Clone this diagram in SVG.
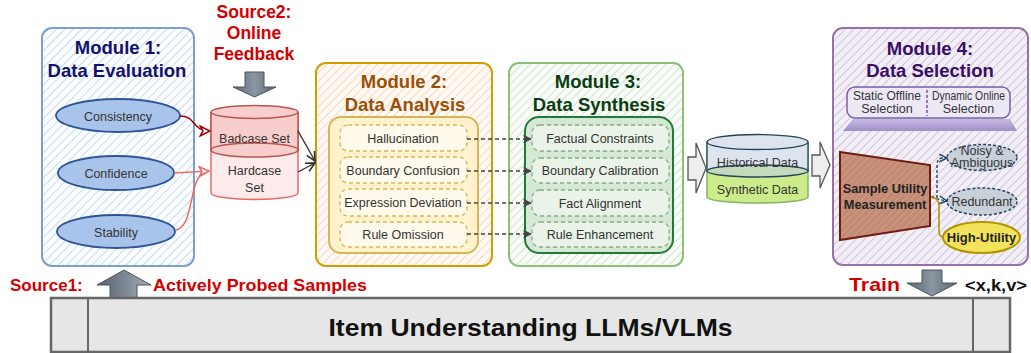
<svg xmlns="http://www.w3.org/2000/svg" width="1031" height="353" viewBox="0 0 1031 353">
<defs>
<style>
text{font-family:"Liberation Sans",Arial,sans-serif;}
.title{font-size:18.5px;font-weight:bold;text-anchor:middle;}
.item{font-size:12.5px;fill:#333;text-anchor:middle;}
.red{fill:#d40000;font-weight:bold;}
.dash{fill:none;stroke:#444;stroke-width:1.3;stroke-dasharray:4 3;}
</style>
<pattern id="hBlue" width="6" height="6" patternUnits="userSpaceOnUse" patternTransform="rotate(45)"><rect width="6" height="6" fill="#fbfdff"/><line x1="0" y1="0" x2="0" y2="6" stroke="#c9dbf2" stroke-width="2"/></pattern>
<pattern id="hOrange" width="6" height="6" patternUnits="userSpaceOnUse" patternTransform="rotate(45)"><rect width="6" height="6" fill="#fffaf5"/><line x1="0" y1="0" x2="0" y2="6" stroke="#fbd9bd" stroke-width="2"/></pattern>
<pattern id="hGreen" width="6" height="6" patternUnits="userSpaceOnUse" patternTransform="rotate(45)"><rect width="6" height="6" fill="#f9fcf8"/><line x1="0" y1="0" x2="0" y2="6" stroke="#cfe5cc" stroke-width="2"/></pattern>
<pattern id="hPurple" width="6" height="6" patternUnits="userSpaceOnUse" patternTransform="rotate(45)"><rect width="6" height="6" fill="#f3eff6"/><line x1="0" y1="0" x2="0" y2="6" stroke="#d2c3dd" stroke-width="2"/></pattern>
<pattern id="hBrown" width="5" height="5" patternUnits="userSpaceOnUse" patternTransform="rotate(45)"><rect width="5" height="5" fill="#c38a74"/><line x1="0" y1="0" x2="0" y2="5" stroke="#d2a28d" stroke-width="1.5"/></pattern>
<linearGradient id="gGray" x1="0" y1="0" x2="1" y2="0"><stop offset="0" stop-color="#5c6875"/><stop offset="0.5" stop-color="#8b96a2"/><stop offset="1" stop-color="#5c6875"/></linearGradient>
<linearGradient id="gGray2" x1="0" y1="0" x2="1" y2="0"><stop offset="0" stop-color="#56616d"/><stop offset="1" stop-color="#a3adb8"/></linearGradient>
<linearGradient id="gPurp" x1="0" y1="0" x2="0" y2="1"><stop offset="0" stop-color="#c6bae0"/><stop offset="1" stop-color="#a08fca"/></linearGradient>
<marker id="aDark" viewBox="0 0 10 10" refX="9" refY="5" markerWidth="8" markerHeight="8" orient="auto"><path d="M1,1 L9,5 L1,9" fill="none" stroke="#333" stroke-width="1.5"/></marker>
<marker id="aDR" viewBox="0 0 10 10" refX="9" refY="5" markerWidth="8" markerHeight="8" orient="auto"><path d="M1,1 L9,5 L1,9 L3,5 z" fill="#fff" stroke="#a00000" stroke-width="1.3"/></marker>
<marker id="aPink" viewBox="0 0 10 10" refX="9" refY="5" markerWidth="8" markerHeight="8" orient="auto"><path d="M1,1 L9,5 L1,9 L3,5 z" fill="#fff" stroke="#ea6b66" stroke-width="1.3"/></marker>
<marker id="aDash" viewBox="0 0 10 10" refX="9" refY="5" markerWidth="7" markerHeight="7" orient="auto"><path d="M1,1 L9,5 L1,9 L3,5 z" fill="#444" stroke="#444" stroke-width="1"/></marker>
<marker id="aM4" viewBox="0 0 10 10" refX="9" refY="5" markerWidth="7" markerHeight="7" orient="auto"><path d="M1,1 L9,5 L1,9" fill="none" stroke="#23445d" stroke-width="1.5"/></marker>
</defs>

<!-- Module 1 -->
<g id="module1">
<rect x="42" y="28" width="152" height="238" rx="10" fill="url(#hBlue)" stroke="#7a9fd0" stroke-width="2"/>
<text class="title" x="118" y="54" fill="#12126e">Module 1:</text>
<text class="title" x="117" y="77" fill="#12126e">Data Evaluation</text>
</g>
<g id="consistency"><ellipse cx="118" cy="115.5" rx="62" ry="16.5" fill="#a9c4eb" stroke="#2f5597" stroke-width="1.8"/><text class="item" x="118" y="120.5" font-size="14" fill="#222">Consistency</text></g>
<g id="confidence"><ellipse cx="116" cy="173" rx="58" ry="17" fill="#a9c4eb" stroke="#2f5597" stroke-width="1.8"/><text class="item" x="116" y="178" font-size="14" fill="#222">Confidence</text></g>
<g id="stability"><ellipse cx="116" cy="231.5" rx="59" ry="16.5" fill="#a9c4eb" stroke="#2f5597" stroke-width="1.8"/><text class="item" x="116" y="236.5" font-size="14" fill="#222">Stability</text></g>

<!-- Source 2 -->
<g id="source2">
<text class="red" x="254" y="18" font-size="17.5" text-anchor="middle">Source2:</text>
<text class="red" x="254" y="39" font-size="17.5" text-anchor="middle">Online</text>
<text class="red" x="254" y="60" font-size="17.5" text-anchor="middle">Feedback</text>
<polygon points="245,72 264,72 264,87 276,87 254.5,97 233,87 245,87" fill="url(#gGray)" stroke="#4a545e" stroke-width="1"/>
</g>

<!-- Case cylinder -->
<g id="caseSets">
<path d="M211,112 L211,193 A43.5,6.5 0 0 0 298,193 L298,112" fill="#fdeaea" stroke="#ea6b66" stroke-width="1.5"/>
<path d="M211,112 L211,150 L298,150 L298,112" fill="#f8cecc" stroke="#b85450" stroke-width="1.5"/>
<ellipse cx="254.5" cy="150" rx="43.5" ry="7" fill="#f8cecc" stroke="#b85450" stroke-width="1.5"/>
<ellipse cx="254.5" cy="112" rx="43.5" ry="6.5" fill="#f8cecc" stroke="#b85450" stroke-width="1.5"/>
<text class="item" x="254.5" y="143" font-size="14" fill="#222">Badcase Set</text>
<text class="item" x="254.5" y="175" font-size="14" fill="#222">Hardcase</text>
<text class="item" x="254.5" y="192" font-size="14" fill="#222">Set</text>
</g>

<!-- Module 2 -->
<g id="module2">
<rect x="316" y="63" width="176" height="203" rx="10" fill="url(#hOrange)" stroke="#d79b00" stroke-width="2"/>
<text class="title" x="404" y="88" fill="#9c4f08">Module 2:</text>
<text class="title" x="405" y="111" fill="#9c4f08">Data Analysis</text>
<rect x="329" y="117" width="149" height="136" rx="12" fill="#fff2cc" stroke="#d6b656" stroke-width="2"/>
</g>
<g id="hallucination"><rect x="340" y="125" width="127" height="26" rx="8" fill="#fffaeb" stroke="#d6b656" stroke-width="1.3" stroke-dasharray="4 3"/><text class="item" x="403" y="143">Hallucination</text></g>
<g id="boundaryConfusion"><rect x="340" y="157" width="127" height="26" rx="8" fill="#fffaeb" stroke="#d6b656" stroke-width="1.3" stroke-dasharray="4 3"/><text class="item" x="403" y="175">Boundary Confusion</text></g>
<g id="expressionDeviation"><rect x="340" y="189" width="127" height="27" rx="8" fill="#fffaeb" stroke="#d6b656" stroke-width="1.3" stroke-dasharray="4 3"/><text class="item" x="403" y="207">Expression Deviation</text></g>
<g id="ruleOmission"><rect x="340" y="222" width="127" height="25" rx="8" fill="#fffaeb" stroke="#d6b656" stroke-width="1.3" stroke-dasharray="4 3"/><text class="item" x="403" y="239">Rule Omission</text></g>

<!-- Module 3 -->
<g id="module3">
<rect x="509" y="63" width="174" height="203" rx="10" fill="url(#hGreen)" stroke="#8cbf78" stroke-width="2"/>
<text class="title" x="598" y="88" fill="#0b3d14">Module 3:</text>
<text class="title" x="599" y="111" fill="#0b3d14">Data Synthesis</text>
<rect x="525" y="117" width="148" height="136" rx="14" fill="#d5e8d4" stroke="#1f7a3a" stroke-width="2"/>
</g>
<g id="factualConstraints"><rect x="532" y="125" width="137" height="26" rx="8" fill="#e9f3e7" stroke="#8aa888" stroke-width="1.3" stroke-dasharray="4 3"/><text class="item" x="600" y="143">Factual Constraints</text></g>
<g id="boundaryCalibration"><rect x="532" y="158" width="137" height="25" rx="8" fill="#e9f3e7" stroke="#8aa888" stroke-width="1.3" stroke-dasharray="4 3"/><text class="item" x="600" y="175">Boundary Calibration</text></g>
<g id="factAlignment"><rect x="532" y="190" width="137" height="26" rx="8" fill="#e9f3e7" stroke="#8aa888" stroke-width="1.3" stroke-dasharray="4 3"/><text class="item" x="600" y="208">Fact Alignment</text></g>
<g id="ruleEnhancement"><rect x="532" y="222" width="137" height="25" rx="8" fill="#e9f3e7" stroke="#8aa888" stroke-width="1.3" stroke-dasharray="4 3"/><text class="item" x="600" y="239">Rule Enhancement</text></g>

<!-- Data cylinder -->
<g id="dataPool">
<path d="M707,142 L707,197 A50.5,6 0 0 0 808,197 L808,142" fill="#cdeb8b" stroke="#82b366" stroke-width="1.5"/>
<path d="M707,142 L707,171 L808,171 L808,142" fill="#dde4ee" stroke="#23445d" stroke-width="1.3"/>
<ellipse cx="757.5" cy="171" rx="50.5" ry="6" fill="#c5d9bd" stroke="#23445d" stroke-width="1.3"/>
<ellipse cx="757.5" cy="142" rx="50.5" ry="7.5" fill="#dde4ee" stroke="#23445d" stroke-width="1.3"/>
<text class="item" x="757.5" y="167" font-size="14.5" fill="#3a4654">Historical Data</text>
<text class="item" x="757.5" y="194" font-size="14" fill="#222">Synthetic Data</text>
</g>

<!-- Module 4 -->
<g id="module4">
<rect x="833" y="28" width="195" height="237" rx="10" fill="url(#hPurple)" stroke="#9673a6" stroke-width="2"/>
<text class="title" x="930" y="55" fill="#3a0d66">Module 4:</text>
<text class="title" x="930" y="77" fill="#3a0d66">Data Selection</text>
</g>
<g id="selectionModes">
<polygon points="853,119 1010,119 1017,131 843,131" fill="url(#gPurp)"/>
<rect x="847" y="87" width="163" height="31" rx="8" fill="#ede8f5" stroke="#7b5ea7" stroke-width="1.5"/>
<line x1="927" y1="90" x2="927" y2="116" stroke="#5b2c8f" stroke-width="1.2" stroke-dasharray="3 2"/>
<text class="item" x="887" y="100" font-size="11" textLength="68" lengthAdjust="spacingAndGlyphs">Static Offline</text>
<text class="item" x="887" y="113" font-size="11">Selection</text>
<text class="item" x="968.5" y="100" font-size="11" textLength="73" lengthAdjust="spacingAndGlyphs">Dynamic Online</text>
<text class="item" x="968.5" y="113" font-size="11">Selection</text>
</g>
<g id="sampleUtility">
<polygon points="840,152 930,165 930,226 840,240" fill="url(#hBrown)" stroke="#6f1a0f" stroke-width="2"/>
<text x="885" y="193" font-size="12.8" font-weight="bold" fill="#222" text-anchor="middle">Sample Utility</text>
<text x="885" y="209" font-size="12.8" font-weight="bold" fill="#222" text-anchor="middle">Measurement</text>
</g>
<g id="noisy"><ellipse cx="982" cy="157.5" rx="35" ry="13" fill="#c8d0da" stroke="#23445d" stroke-width="1.5" stroke-dasharray="3 2"/><text class="item" x="982" y="155" font-size="10.5">Noisy &amp;</text><text class="item" x="982" y="167" font-size="10.5">Ambiguous</text></g>
<g id="redundant"><ellipse cx="982" cy="201.5" rx="35" ry="13.5" fill="#c8d0da" stroke="#23445d" stroke-width="1.5" stroke-dasharray="3 2"/><text class="item" x="982" y="205.5" font-size="11">Redundant</text></g>
<g id="highUtility"><ellipse cx="981.5" cy="237.5" rx="38.5" ry="15.5" fill="#f3e35a" stroke="#b09500" stroke-width="2"/><text x="981.5" y="242" font-size="13" font-weight="bold" fill="#222" text-anchor="middle">High-Utility</text></g>

<!-- Connectors -->
<g id="connectors">
<path d="M180,116 C196,116 192,131 210,131" fill="none" stroke="#a00000" stroke-width="1.5" marker-end="url(#aDR)"/>
<path d="M174,173 L209,171" fill="none" stroke="#ea6b66" stroke-width="1.5" marker-end="url(#aPink)"/>
<path d="M175,230 C195,228 188,176 205,173" fill="none" stroke="#ea6b66" stroke-width="1.5"/>
<path d="M298,131 L315,161" fill="none" stroke="#333" stroke-width="1.4" marker-end="url(#aDark)"/>
<path d="M298,172 L315,163" fill="none" stroke="#333" stroke-width="1.4" marker-end="url(#aDark)"/>
<path class="dash" d="M467,139 L531,139" marker-end="url(#aDash)"/>
<path class="dash" d="M467,171 L531,171" marker-end="url(#aDash)"/>
<path class="dash" d="M467,203 L531,203" marker-end="url(#aDash)"/>
<path class="dash" d="M467,234 L531,234" marker-end="url(#aDash)"/>
<polygon points="688,157 696,157 696,143 706,168 696,193 696,180 688,180" fill="#eeeeee" stroke="#555" stroke-width="1.3"/>
<polygon points="812,155 820,155 820,142 830,165 820,188 820,176 812,176" fill="#eeeeee" stroke="#555" stroke-width="1.3"/>
<path d="M931,197 L937,197 L937,165 Q937,158 943,158 L947,158" fill="none" stroke="#23445d" stroke-width="1.4" stroke-dasharray="3 2" marker-end="url(#aM4)"/>
<path d="M931,197 Q940,200 947,201" fill="none" stroke="#23445d" stroke-width="1.4" stroke-dasharray="3 2" marker-end="url(#aM4)"/>
<path d="M931,197 Q939,198 939,206 L939,231 Q939,237 943,237" fill="none" stroke="#b09500" stroke-width="1.6"/>
</g>

<!-- Bottom -->
<g id="source1">
<text class="red" x="10" y="291" font-size="17">Source1:</text>
<polygon points="124,270 151,285 137,285 137,298 110,298 110,285 97,285" fill="url(#gGray2)" stroke="#4a545e" stroke-width="1"/>
<text class="red" x="153" y="291" font-size="17" textLength="214" lengthAdjust="spacingAndGlyphs">Actively Probed Samples</text>
</g>
<g id="train">
<text class="red" x="849" y="291" font-size="19" textLength="51" lengthAdjust="spacingAndGlyphs">Train</text>
<polygon points="922,270 942,270 942,283 957,283 932,296 907,283 922,283" fill="url(#gGray)" stroke="#4a545e" stroke-width="1"/>
<text x="965" y="291" font-size="16" font-weight="bold" fill="#111" textLength="62" lengthAdjust="spacingAndGlyphs">&lt;x,k,v&gt;</text>
</g>
<g id="llm">
<rect x="51" y="298" width="959" height="54" fill="#e6e6e6" stroke="#666" stroke-width="2.5"/>
<line x1="88" y1="298" x2="88" y2="352" stroke="#666" stroke-width="2"/>
<line x1="973" y1="298" x2="973" y2="352" stroke="#666" stroke-width="2"/>
<text x="530.5" y="336" font-size="24" font-weight="bold" fill="#111" text-anchor="middle" textLength="404" lengthAdjust="spacingAndGlyphs">Item Understanding LLMs/VLMs</text>
</g>
</svg>
